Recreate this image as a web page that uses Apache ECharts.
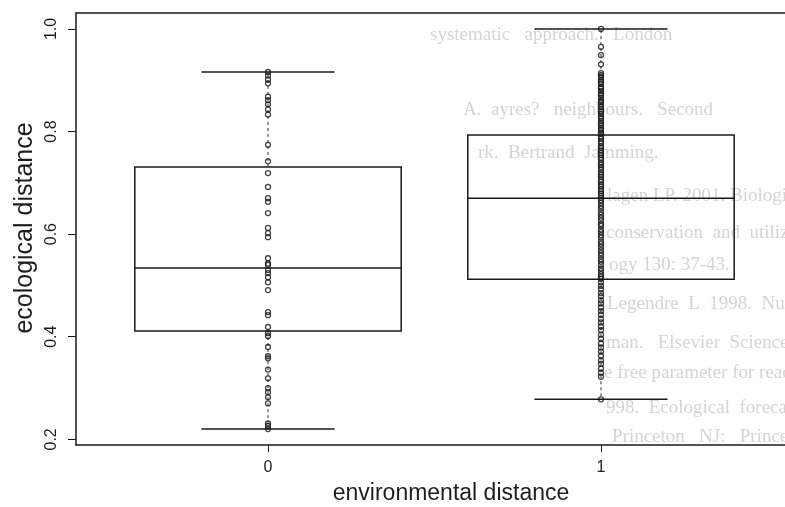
<!DOCTYPE html>
<html>
<head>
<meta charset="utf-8">
<script src="https://cdn.jsdelivr.net/npm/echarts@6/dist/echarts.min.js"></script>
<style>html,body{margin:0;padding:0;background:#fff;}#chart{width:785px;height:507px;}</style>
</head>
<body>
<div id="chart"></div>
<script>
const categories = ['0', '1'];
const yTicks = [0.2, 0.4, 0.6, 0.8, 1.0];
// box statistics: [lower whisker, Q1, median, Q3, upper whisker]
const boxStats0 = [0.220, 0.411, 0.534, 0.731, 0.916];
const boxStats1 = [0.278, 0.512, 0.670, 0.793, 1.000];
const group0Values = [0.916, 0.909, 0.901, 0.894, 0.868, 0.861, 0.853, 0.843, 0.833, 0.774, 0.742, 0.719, 0.692, 0.670, 0.663, 0.641, 0.612, 0.602, 0.594, 0.553, 0.543, 0.540, 0.530, 0.524, 0.516, 0.506, 0.491, 0.448, 0.442, 0.419, 0.407, 0.401, 0.380, 0.362, 0.358, 0.336, 0.319, 0.300, 0.292, 0.282, 0.270, 0.231, 0.226, 0.220];
const group1Values = [1.000, 0.965, 0.949, 0.931,
  0.914, 0.910, 0.906, 0.901, 0.897, 0.893, 0.887, 0.884, 0.879, 0.874, 0.871, 0.866, 0.860, 0.857, 0.853, 0.848, 0.843, 0.839, 0.834, 0.830, 0.826, 0.820, 0.816, 0.812, 0.807, 0.803, 0.798, 0.795,
  0.790, 0.786, 0.781, 0.777, 0.771, 0.768, 0.763, 0.758, 0.754, 0.749, 0.745, 0.739, 0.735, 0.731, 0.726, 0.720, 0.716, 0.712, 0.706, 0.702, 0.697, 0.693, 0.688, 0.684, 0.679, 0.675, 0.671,
  0.666, 0.661, 0.655, 0.650, 0.643, 0.638, 0.632, 0.627, 0.620, 0.616, 0.609, 0.604, 0.598, 0.593, 0.586, 0.581, 0.575, 0.569, 0.563, 0.558, 0.551, 0.546, 0.540, 0.533, 0.528, 0.522, 0.517, 0.513,
  0.506, 0.499, 0.493, 0.485, 0.479, 0.471, 0.465, 0.457, 0.450, 0.443, 0.435, 0.428, 0.420, 0.413, 0.404, 0.396, 0.387, 0.379, 0.371, 0.363, 0.354, 0.347, 0.338, 0.330, 0.322,
  0.278];
const xTitle = 'environmental distance';
const yTitle = 'ecological distance';
// faint show-through text of the scanned page
const bleedLines = [
  'systematic   approach.   London',
  'A.  ayres?   neighbours.   Second',
  'rk.  Bertrand  Jamming.',
  'lagen LP. 2001. Biologicall',
  'conservation  and  utilization  of',
  'ogy 130: 37-43.',
  'Legendre  L  1998.  Numerical',
  'man.   Elsevier  Science,  B',
  'e free parameter for reacting',
  '998.  Ecological  forecasting  and',
  'Princeton   NJ:   Princeton'
];

const chart = echarts.init(document.getElementById('chart'), null, {renderer: 'canvas'});

const bleedPos = [[430,35],[463,110],[478,153],[607,196],[606,233],[609,265],[607,304],[606,343],[604,373],[606,408],[612,437]];
const graphics = bleedLines.map((t, i) => ({
  type: 'text', x: bleedPos[i][0], y: bleedPos[i][1], z: -10, silent: true,
  style: {text: t, fill: '#d4d4d4', font: '19px "Liberation Serif"', verticalAlign: 'middle', align: 'left'}
}));
graphics.push({type: 'text', x: 25, y: 228, rotation: Math.PI / 2, z: 10,
  style: {text: yTitle, fill: '#1e1e1e', font: '25px "Liberation Sans"', align: 'center', verticalAlign: 'middle'}});
graphics.push({type: 'text', x: 451, y: 494, z: 10,
  style: {text: xTitle, fill: '#1e1e1e', font: '23px "Liberation Sans"', align: 'center', verticalAlign: 'middle'}});

function renderBox(params, api) {
  const x = api.value(0);
  const c = v => api.coord([x, v]);
  const pMin = c(api.value(1)), pQ1 = c(api.value(2)), pMd = c(api.value(3)), pQ3 = c(api.value(4)), pMax = c(api.value(5));
  const half = api.size([0.4, 0])[0];
  const cap = api.size([0.2, 0])[0];
  const cx = pMd[0];
  const solid = {stroke: '#1a1a1a', lineWidth: 1.5};
  const dash = {stroke: '#333', lineWidth: 1, lineDash: [3, 3]};
  return {type: 'group', children: [
    {type: 'line', shape: {x1: cx, y1: pQ3[1], x2: cx, y2: pMax[1]}, style: dash},
    {type: 'line', shape: {x1: cx, y1: pQ1[1], x2: cx, y2: pMin[1]}, style: dash},
    {type: 'line', shape: {x1: cx - cap, y1: pMax[1], x2: cx + cap, y2: pMax[1]}, style: solid},
    {type: 'line', shape: {x1: cx - cap, y1: pMin[1], x2: cx + cap, y2: pMin[1]}, style: solid},
    {type: 'rect', shape: {x: cx - half, y: pQ3[1], width: 2 * half, height: pQ1[1] - pQ3[1]}, style: {fill: 'transparent', stroke: '#1a1a1a', lineWidth: 1.5}},
    {type: 'line', shape: {x1: cx - half, y1: pMd[1], x2: cx + half, y2: pMd[1]}, style: solid}
  ]};
}

const pointStyle = {color: 'rgba(0,0,0,0)', borderColor: '#151515', borderWidth: 1.3};
const frameLine = {show: true, onZero: false, lineStyle: {color: '#1a1a1a', width: 1.5}};
const X_MIN = 0.4234, X_MAX = 2.5526;

chart.setOption({
  animation: false,
  backgroundColor: '#fff',
  grid: {left: 76, top: 13, right: 0, height: 432, show: false},
  xAxis: [{
    type: 'value', min: X_MIN, max: X_MAX, position: 'bottom',
    axisLine: frameLine,
    splitLine: {show: false},
    axisTick: {show: true, customValues: [1, 2], length: 7, lineStyle: {color: '#1a1a1a', width: 1}},
    axisLabel: {customValues: [1, 2], formatter: v => categories[Math.round(v) - 1], fontSize: 16, fontFamily: 'Liberation Sans', color: '#1e1e1e', margin: 15}
  }, {
    type: 'value', min: X_MIN, max: X_MAX, position: 'top',
    axisLine: frameLine, axisTick: {show: false}, axisLabel: {show: false}, splitLine: {show: false}
  }],
  yAxis: {
    type: 'value', min: 0.189, max: 1.031,
    axisLine: frameLine,
    splitLine: {show: false},
    axisTick: {show: true, customValues: yTicks, length: 8, lineStyle: {color: '#1a1a1a', width: 1}},
    axisLabel: {customValues: yTicks, formatter: v => v.toFixed(1), rotate: 90, fontSize: 16, fontFamily: 'Liberation Sans', color: '#1e1e1e', margin: 16}
  },
  graphic: graphics,
  series: [
    {type: 'custom', renderItem: renderBox, z: 2, silent: true,
     encode: {x: 0, y: [1, 2, 3, 4, 5]},
     data: [[1].concat(boxStats0), [2].concat(boxStats1)]},
    {type: 'scatter', z: 3, symbol: 'circle', symbolSize: 5, itemStyle: pointStyle,
     data: group0Values.map(v => [1, v])},
    {type: 'scatter', z: 3, symbol: 'circle', symbolSize: 5, itemStyle: pointStyle,
     data: group1Values.map(v => [2, v])}
  ]
});
</script>
</body>
</html>
